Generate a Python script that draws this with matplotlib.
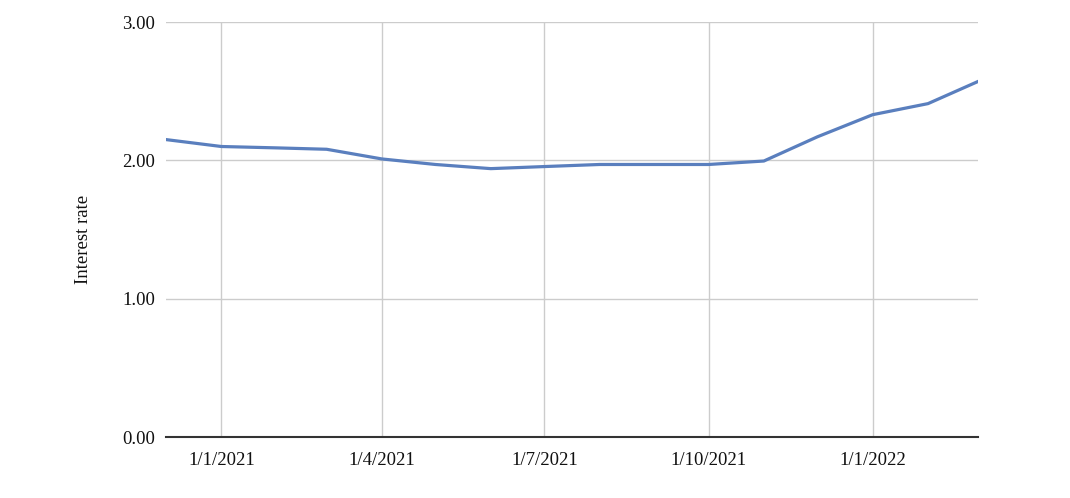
import matplotlib
matplotlib.use("Agg")
import matplotlib.pyplot as plt
import pandas as pd

dates = ["2020-12-01", "2021-01-01", "2021-02-01", "2021-03-01", "2021-04-01",
         "2021-05-01", "2021-06-01", "2021-07-01", "2021-08-01", "2021-09-01",
         "2021-10-01", "2021-11-01", "2021-12-01", "2022-01-01", "2022-02-01",
         "2022-03-01"]
rates = [2.15, 2.10, 2.09, 2.08, 2.01, 1.97, 1.94, 1.955, 1.97, 1.97,
         1.97, 1.995, 2.17, 2.33, 2.41, 2.57]
tick_dates = ["2021-01-01", "2021-04-01", "2021-07-01", "2021-10-01", "2022-01-01"]
tick_labels = ["1/1/2021", "1/4/2021", "1/7/2021", "1/10/2021", "1/1/2022"]
y_ticks = [0, 1, 2, 3]
y_labels = ["0.00", "1.00", "2.00", "3.00"]

x = pd.to_datetime(dates)
xt = pd.to_datetime(tick_dates)

plt.rcParams['font.family'] = ['Liberation Serif', 'DejaVu Serif']

fig = plt.figure(figsize=(10.70, 4.98), dpi=100)
ax = fig.add_axes([166/1070, 1-437/498, (978-166)/1070, (437-22)/498])

ax.plot(x, rates, color="#5a7fbe", linewidth=2.3, solid_joinstyle="round", zorder=3)

ax.set_xlim(x[0], x[-1])
ax.set_ylim(0, 3)
ax.set_xticks(xt)
ax.set_xticklabels(tick_labels, fontsize=13.5, color="#111111")
ax.set_yticks(y_ticks)
ax.set_yticklabels(y_labels, fontsize=13.5, color="#111111")
ax.tick_params(axis="both", length=0)
ax.tick_params(axis="x", pad=11)
ax.tick_params(axis="y", pad=8)

ax.grid(True, color="#cccccc", linewidth=1.0, zorder=0)
ax.set_axisbelow(True)
for s in ["top", "right", "left"]:
    ax.spines[s].set_visible(False)
ax.spines["bottom"].set_color("#333333")
ax.spines["bottom"].set_linewidth(1.5)

ax.set_ylabel("Interest rate", fontsize=13.5, color="#111111", va="center")
ax.yaxis.set_label_coords(-0.101, 0.475)

fig.savefig("out.png", dpi=100, facecolor="white")
